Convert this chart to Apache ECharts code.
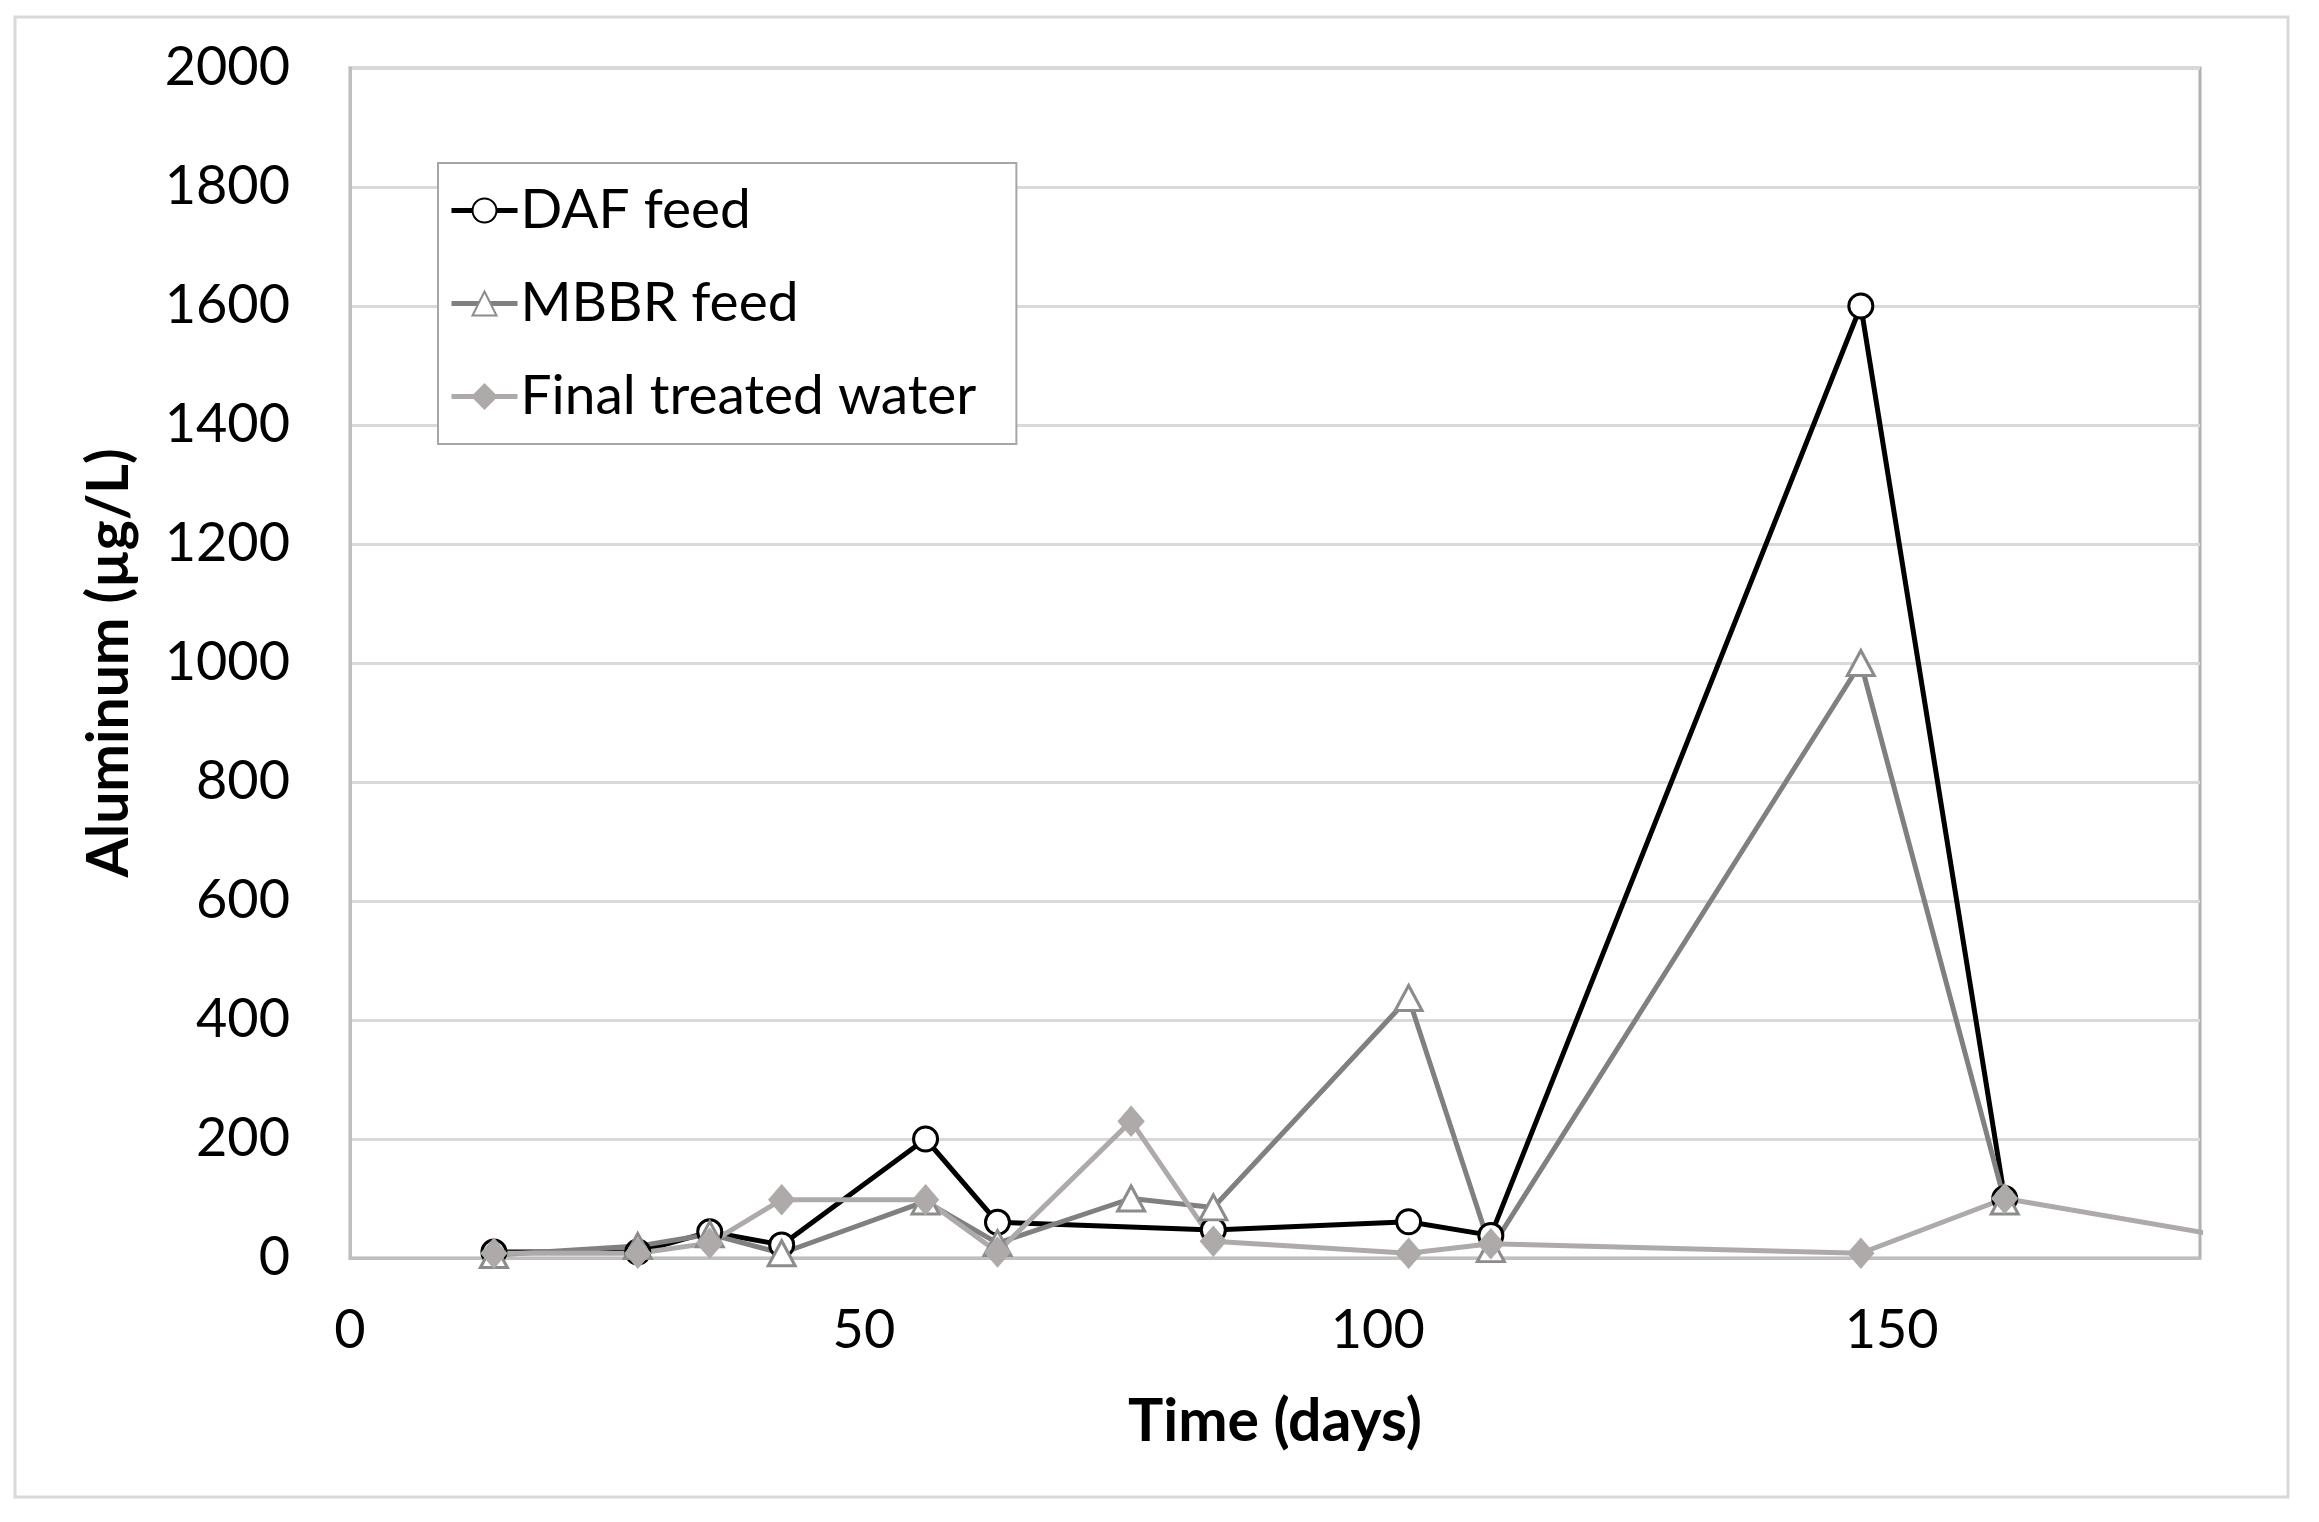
<!DOCTYPE html>
<html lang="en">
<head>
    <meta charset="UTF-8">
    <title>Aluminum over time</title>
    <script src="https://cdn.jsdelivr.net/npm/echarts/dist/echarts.min.js"></script>
    <style>
        html, body {
            margin: 0;
            padding: 0;
            background: #fff;
        }
        #chart {
            width: 2319px;
            height: 1522px;
        }
    </style>
</head>
<body>
    <div id="chart"></div>
    <script>
        // data
        const seriesNames = ['DAF feed', 'MBBR feed', 'Final treated water'];

        const dafDays = [14, 28, 35, 42, 56, 63, 84, 103, 111, 147, 161];
        const dafValues = [10, 10, 44, 22, 200, 60, 47, 61, 38, 1600, 100];

        const mbbrDays = [14, 28, 35, 42, 56, 63, 76, 84, 103, 111, 147, 161];
        const mbbrValues = [5, 20, 40, 8, 95, 25, 100, 85, 437, 15, 1000, 95];

        // last point lies past the axis end, line runs off the plot edge
        const finalDays = [14, 28, 35, 42, 56, 63, 76, 84, 103, 111, 147, 161, 189];
        const finalValues = [8, 8, 25, 98, 98, 10, 230, 28, 8, 24, 8, 100, 17];

        const xTicks = [0, 50, 100, 150];
        const yTicks = [0, 200, 400, 600, 800, 1000, 1200, 1400, 1600, 1800, 2000];

        const pairs = (xs, ys) => xs.map((x, i) => [x, ys[i]]);

        const font = 'Lato, "Open Sans", sans-serif';

        var myChart = echarts.init(document.getElementById('chart'));

        myChart.setOption({
            backgroundColor: '#fff',
            animation: false,
            textStyle: { fontFamily: font, color: '#000' },
            graphic: [{
                // outer chart frame
                type: 'rect',
                shape: { x: 15, y: 17, width: 2273, height: 1480 },
                style: { fill: 'none', stroke: '#d9d9d9', lineWidth: 3 },
                silent: true
            }],
            grid: {
                left: 350,
                top: 68,
                right: 119,
                bottom: 264,
                show: true,
                borderColor: '#b3b0b0',
                borderWidth: 3,
                backgroundColor: 'transparent'
            },
            legend: {
                data: seriesNames,
                orient: 'vertical',
                left: 438,
                top: 163,
                padding: [20, 40, 20, 11],
                itemWidth: 66,
                itemHeight: 30,
                itemGap: 38,
                borderColor: '#a6a6a6',
                borderWidth: 2,
                backgroundColor: '#fff',
                lineStyle: { width: 5 },
                textStyle: { fontFamily: font, fontSize: 55, color: '#000', padding: [0, 0, 0, -2] }
            },
            xAxis: {
                type: 'value',
                min: 0,
                max: 180,
                interval: 50,
                name: 'Time (days)',
                nameLocation: 'middle',
                nameGap: 134,
                nameTextStyle: { fontFamily: font, fontSize: 59, fontWeight: 'bold', color: '#000' },
                axisLine: { show: true, onZero: false, lineStyle: { color: '#bfbfbf', width: 3 } },
                axisTick: { show: false },
                splitLine: { show: false },
                axisLabel: {
                    margin: 46,
                    fontSize: 54,
                    color: '#000',
                    fontFamily: font,
                    showMaxLabel: false,
                    formatter: v => xTicks.includes(v) ? String(v) : ''
                }
            },
            yAxis: {
                type: 'value',
                min: 0,
                max: 2000,
                interval: 200,
                name: 'Aluminum (µg/L)',
                nameLocation: 'middle',
                nameGap: 212,
                nameRotate: 90,
                nameTextStyle: { fontFamily: font, fontSize: 57, fontWeight: 'bold', color: '#000' },
                axisLine: { show: true, lineStyle: { color: '#bfbfbf', width: 3 } },
                axisTick: { show: false },
                splitLine: { show: true, lineStyle: { color: '#d9d9d9', width: 3 } },
                axisLabel: {
                    margin: 60,
                    fontSize: 54,
                    color: '#000',
                    fontFamily: font,
                    formatter: v => yTicks.includes(v) ? String(v) : ''
                }
            },
            series: [{
                name: seriesNames[0],
                type: 'line',
                data: pairs(dafDays, dafValues),
                symbol: 'circle',
                symbolSize: 24,
                showAllSymbol: true,
                lineStyle: { color: '#000', width: 5 },
                itemStyle: { color: '#fff', borderColor: '#000', borderWidth: 3 }
            }, {
                name: seriesNames[1],
                type: 'line',
                data: pairs(mbbrDays, mbbrValues),
                symbol: 'triangle',
                symbolSize: [27, 25],
                showAllSymbol: true,
                lineStyle: { color: '#808080', width: 5 },
                itemStyle: { color: '#fff', borderColor: '#8c8c8c', borderWidth: 3 }
            }, {
                name: seriesNames[2],
                type: 'line',
                data: pairs(finalDays, finalValues),
                symbol: 'diamond',
                symbolSize: [26, 30],
                showAllSymbol: true,
                clip: true,
                lineStyle: { color: '#aeaaaa', width: 5 },
                itemStyle: { color: '#aeaaaa', borderColor: '#aeaaaa', borderWidth: 1 }
            }]
        });
    </script>
</body>
</html>
